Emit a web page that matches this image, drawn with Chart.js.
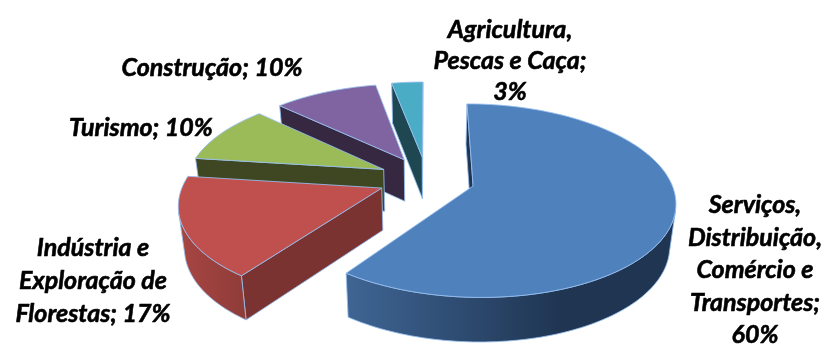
<!DOCTYPE html>
<html>
<head>
<meta charset="utf-8">
<style>
  html, body { margin: 0; padding: 0; background: #fff; }
  canvas { display: block; }
</style>
<script src="https://cdn.jsdelivr.net/npm/chart.js@4"></script>
</head>
<body>
<canvas id="pie" width="827" height="345"></canvas>
<script>
// Sector shares, clockwise from twelve o'clock
const categories = [
  "Serviços, Distribuição, Comércio e Transportes",
  "Indústria e Exploração de Florestas",
  "Turismo",
  "Construção",
  "Agricultura, Pescas e Caça"
];
const shares = [60, 17, 10, 10, 3];

// How each label wraps; the share is filled in where {v} stands
const labelLines = [
  ["Serviços,", "Distribuição,", "Comércio e", "Transportes;", "{v}%"],
  ["Indústria e", "Exploração de", "Florestas; {v}%"],
  ["Turismo; {v}%"],
  ["Construção; {v}%"],
  ["Agricultura,", "Pescas e Caça;", "{v}%"]
];
const labelAnchors = [
  { x: 755, y: 205, step: 32.5 },
  { x: 93, y: 248, step: 33 },
  { x: 141, y: 128, step: 31 },
  { x: 212, y: 68, step: 31 },
  { x: 510, y: 30, step: 31 }
];

// Office palette: top face, cut face, and rim shading from left to right
const topColors = ["#4f81bd", "#c0504d", "#9bbb59", "#8064a2", "#4bacc6"];
const cutColors = ["#1f3552", "#7b3331", "#3f4722", "#352840", "#1f4752"];
const rimStops = [
  [[347, "#3f6594"], [560, "#1f3552"], [680, "#1f3552"]],
  [[177, "#a94643"], [245, "#8f3c39"]],
  [[190, "#5d7036"], [390, "#3f4722"]],
  [[280, "#4d3c61"], [400, "#352840"]],
  [[390, "#2d6777"], [425, "#1f4752"]]
];
const edgeColor = "rgba(150,190,238,0.85)";

// Perspective used to lay the pie on its side
const view = { cx: 426.7, cy: 178.9, rx: 197, ry: 92.4, tilt: 0.15, depth: 42, depthGrow: 2, shrink: 0.025 };
const explode = 0.245;

function project(u, v, z) {
  const w = 1 - view.tilt * v;
  const s = 1 - view.shrink * z;
  return {
    x: view.cx + view.rx * s * u / w,
    y: view.cy + view.ry * v / w + z * (view.depth + view.depthGrow * v / w)
  };
}

function tracePath(ctx, pts) {
  ctx.beginPath();
  pts.forEach((p, i) => (i ? ctx.lineTo(p.x, p.y) : ctx.moveTo(p.x, p.y)));
  ctx.closePath();
}

// Shoelace sum; negative means the face is turned towards the viewer
function signedArea(pts) {
  let sum = 0;
  pts.forEach((p, i) => {
    const q = pts[(i + 1) % pts.length];
    sum += p.x * q.y - q.x * p.y;
  });
  return sum;
}

function paintFace(ctx, pts, fill) {
  tracePath(ctx, pts);
  ctx.fillStyle = fill;
  ctx.fill();
  ctx.strokeStyle = edgeColor;
  ctx.lineWidth = 1;
  ctx.stroke();
}

// Turns each arc the pie controller laid out into an extruded wedge
const sideways3d = {
  id: "sideways3d",
  beforeDatasetsDraw(chart) {
    const ctx = chart.ctx;
    const arcs = chart.getDatasetMeta(0).data;
    for (let i = arcs.length - 1; i >= 0; i--) {
      const { startAngle, endAngle } = arcs[i].getProps(["startAngle", "endAngle"], true);
      const a0 = startAngle + Math.PI / 2;
      const a1 = endAngle + Math.PI / 2;
      const mid = (a0 + a1) / 2;
      const ou = Math.sin(mid) * explode;
      const ov = -Math.cos(mid) * explode;
      const steps = Math.max(6, Math.ceil((a1 - a0) * 40));

      const rim = [];
      for (let k = 0; k <= steps; k++) {
        const a = a0 + (a1 - a0) * k / steps;
        rim.push({ u: ou + Math.sin(a), v: ov - Math.cos(a) });
      }
      const top = rim.map(p => project(p.u, p.v, 0));
      const bottom = rim.map(p => project(p.u, p.v, 1));
      const apexTop = project(ou, ov, 0);
      const apexBottom = project(ou, ov, 1);

      // Only the walls turned towards the viewer are painted
      const startFace = [apexTop, top[0], bottom[0], apexBottom];
      const endFace = [apexTop, top[steps], bottom[steps], apexBottom];
      if (signedArea(startFace) < 0) paintFace(ctx, startFace, cutColors[i]);
      if (signedArea(endFace) > 0) paintFace(ctx, endFace, cutColors[i]);

      const frontTop = [];
      const frontBottom = [];
      for (let k = 0; k < steps; k++) {
        const quad = [top[k], top[k + 1], bottom[k + 1], bottom[k]];
        if (signedArea(quad) < 0) {
          if (!frontTop.length) { frontTop.push(top[k]); frontBottom.push(bottom[k]); }
          frontTop.push(top[k + 1]);
          frontBottom.push(bottom[k + 1]);
        }
      }
      if (frontTop.length) {
        const stops = rimStops[i];
        const first = stops[0][0];
        const last = stops[stops.length - 1][0];
        const grad = ctx.createLinearGradient(first, 0, last, 0);
        stops.forEach(s => grad.addColorStop((s[0] - first) / (last - first), s[1]));
        paintFace(ctx, frontTop.concat(frontBottom.reverse()), grad);
      }

      paintFace(ctx, [apexTop].concat(top), topColors[i]);
    }
    return false;
  },
  afterDraw(chart) {
    const ctx = chart.ctx;
    ctx.save();
    ctx.fillStyle = "#000";
    ctx.strokeStyle = "#000";
    ctx.lineWidth = 0.6;
    ctx.lineJoin = "round";
    ctx.font = "italic bold 25px Lato, Carlito, sans-serif";
    ctx.textAlign = "center";
    ctx.textBaseline = "middle";
    labelLines.forEach((lines, i) => {
      const anchor = labelAnchors[i];
      lines.forEach((line, n) => {
        const text = line.replace("{v}", shares[i]);
        ctx.fillText(text, anchor.x, anchor.y + n * anchor.step);
        ctx.strokeText(text, anchor.x, anchor.y + n * anchor.step);
      });
    });
    ctx.restore();
  }
};

new Chart(document.getElementById("pie"), {
  type: "pie",
  data: {
    labels: categories,
    datasets: [{ data: shares, backgroundColor: topColors, borderWidth: 0 }]
  },
  options: {
    responsive: false,
    animation: false,
    plugins: { legend: { display: false }, tooltip: { enabled: false } }
  },
  plugins: [sideways3d]
});
</script>
</body>
</html>
